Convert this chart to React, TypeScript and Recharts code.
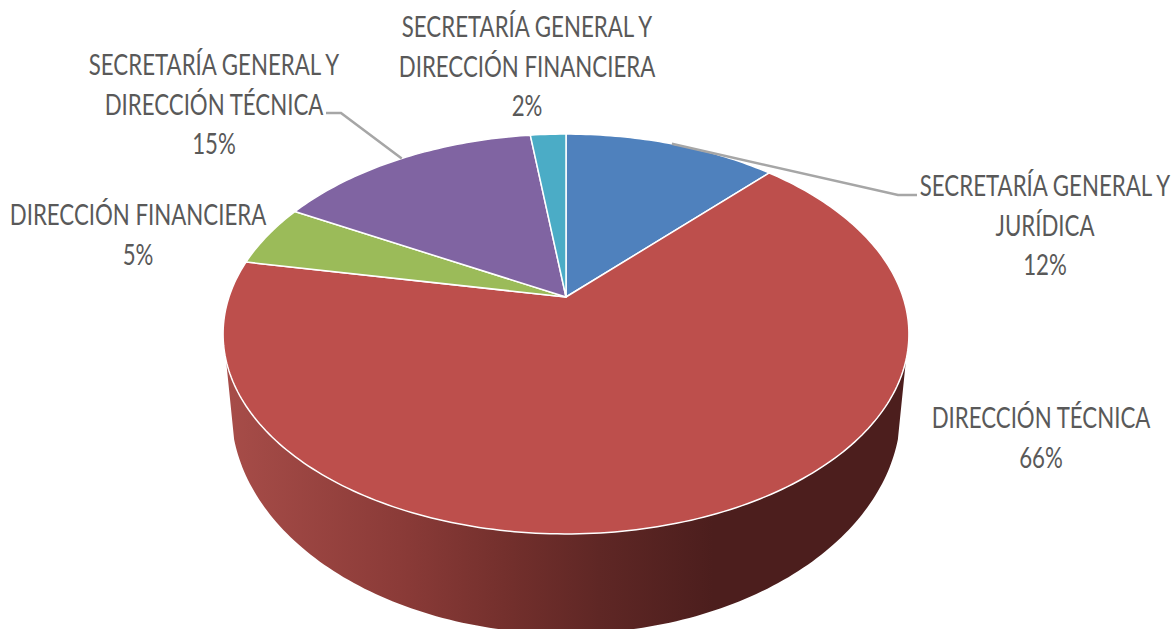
import React from "react";
import { PieChart, Pie, Cell } from "recharts";

const categories = [
  "SECRETARÍA GENERAL Y JURÍDICA",
  "DIRECCIÓN TÉCNICA",
  "DIRECCIÓN FINANCIERA",
  "SECRETARÍA GENERAL Y DIRECCIÓN TÉCNICA",
  "SECRETARÍA GENERAL Y DIRECCIÓN FINANCIERA",
];
const shares = [12, 66, 5, 15, 2];
const sliceColors = ["#4f81bd", "#bd4f4c", "#9bbb59", "#8064a2", "#4bacc6"];

// where each category name wraps
const labelLines = [
  ["SECRETARÍA GENERAL Y", "JURÍDICA"],
  ["DIRECCIÓN TÉCNICA"],
  ["DIRECCIÓN FINANCIERA"],
  ["SECRETARÍA GENERAL Y", "DIRECCIÓN TÉCNICA"],
  ["SECRETARÍA GENERAL Y", "DIRECCIÓN FINANCIERA"],
];

// label block placement, centre x and first line baseline
const labelSpots = [
  { x: 1045, y: 196, leader: [[898, 195], [917, 195]] },
  { x: 1041, y: 428 },
  { x: 138, y: 225 },
  { x: 214, y: 75, leader: [[341, 113], [326, 113]] },
  { x: 527, y: 37 },
];

const WIDTH = 1173;
const HEIGHT = 629;
const CX = 566;
const CY = 297;
const RADIUS = 337;
const LINE_GAP = 39.5;
// the label face runs condensed
const TEXT_SQUEEZE = 0.795;

// perspective of the tilted disc
const TILT = 0.573;
const DEPTH = 0.185;
// front wall: the rim it hangs from and the lower rim
const BASE_DROP = 71.6;
const BASE_X = 329;
const BASE_Y = 216;
const WALL_FROM = 108;
const WALL_TO = 252;

// clockwise degrees from 12 o'clock
const clockAngle = (deg: number) => 90 - deg;

function topPoint(cx: number, cy: number, r: number, a: number) {
  const rad = (a * Math.PI) / 180;
  const u = Math.sin(rad);
  const v = -Math.cos(rad);
  const w = 1 - DEPTH * v;
  return [cx + (r * u) / w, cy + (r * TILT * v) / w];
}

function basePoint(cx: number, cy: number, a: number) {
  const rad = (a * Math.PI) / 180;
  const u = Math.sin(rad);
  const v = -Math.cos(rad);
  const w = 1 - DEPTH * v;
  return [cx + (BASE_X * u) / w, cy + BASE_DROP + (BASE_Y * v) / w];
}

function sweep(from: number, to: number) {
  const out: number[] = [];
  for (let a = from; a < to; a += 1) out.push(a);
  out.push(to);
  return out;
}

const toPath = (pts: number[][]) =>
  pts.map((p, i) => `${i ? "L" : "M"}${p[0].toFixed(2)} ${p[1].toFixed(2)}`).join("") + "Z";

function TiltedSlice(props: any) {
  const { cx, cy, outerRadius, startAngle, endAngle, fill } = props;
  const a1 = clockAngle(startAngle);
  const a2 = clockAngle(endAngle);
  const top = [[cx, cy], ...sweep(a1, a2).map((a) => topPoint(cx, cy, outerRadius, a))];
  const wallA = Math.max(a1, WALL_FROM);
  const wallB = Math.min(a2, WALL_TO);
  const wall =
    wallA < wallB
      ? [
          ...sweep(wallA, wallB).map((a) => topPoint(cx, cy, outerRadius, a)),
          ...sweep(wallA, wallB).reverse().map((a) => basePoint(cx, cy, a)),
        ]
      : null;
  return (
    <g>
      {wall && (
        <>
          <defs>
            <linearGradient id="wallShade" gradientUnits="userSpaceOnUse" x1={232} y1={0} x2={900} y2={0}>
              <stop offset="0" stopColor="#a64c48" />
              <stop offset="0.25" stopColor="#8b3b38" />
              <stop offset="0.42" stopColor="#722f2c" />
              <stop offset="0.55" stopColor="#5f2725" />
              <stop offset="0.72" stopColor="#4c1e1d" />
              <stop offset="1" stopColor="#4c1e1d" />
            </linearGradient>
          </defs>
          <path d={toPath(wall)} fill="url(#wallShade)" />
        </>
      )}
      <path d={toPath(top)} fill={fill} stroke="#ffffff" strokeWidth={1.5} strokeLinejoin="round" />
    </g>
  );
}

function SliceLabel(props: any) {
  const { index, cx, cy, outerRadius, midAngle, value } = props;
  const spot: any = labelSpots[index];
  const lines = [...labelLines[index], `${value}%`];
  let leader = null;
  if (spot.leader) {
    const start = topPoint(cx, cy, outerRadius, clockAngle(midAngle));
    const pts = [start, ...spot.leader].map((p: number[]) => p.join(",")).join(" ");
    leader = <polyline points={pts} fill="none" stroke="#a6a6a6" strokeWidth={2.5} />;
  }
  return (
    <g>
      {leader}
      {lines.map((line, i) => (
        <text
          key={i}
          textAnchor="middle"
          fill="#595959"
          fontSize={28}
          fontFamily="Lato, 'Liberation Sans', sans-serif"
          transform={`translate(${spot.x} ${spot.y + i * LINE_GAP}) scale(${TEXT_SQUEEZE} 1)`}
        >
          {line}
        </text>
      ))}
    </g>
  );
}

const rows = categories.map((name, i) => ({ name, value: shares[i] }));

export default function App() {
  return (
    <div style={{ position: "absolute", left: 0, top: 0, width: WIDTH, height: HEIGHT, overflow: "hidden", background: "#fff" }}>
      <PieChart width={WIDTH} height={HEIGHT} margin={{ top: 0, right: 0, bottom: 0, left: 0 }}>
        <Pie
          data={rows}
          dataKey="value"
          nameKey="name"
          cx={CX}
          cy={CY}
          innerRadius={0}
          outerRadius={RADIUS}
          startAngle={90}
          endAngle={-270}
          paddingAngle={0}
          stroke="none"
          shape={TiltedSlice}
          label={SliceLabel}
          labelLine={false}
          isAnimationActive={false}
        >
          {rows.map((row, i) => (
            <Cell key={row.name} fill={sliceColors[i]} />
          ))}
        </Pie>
      </PieChart>
    </div>
  );
}
